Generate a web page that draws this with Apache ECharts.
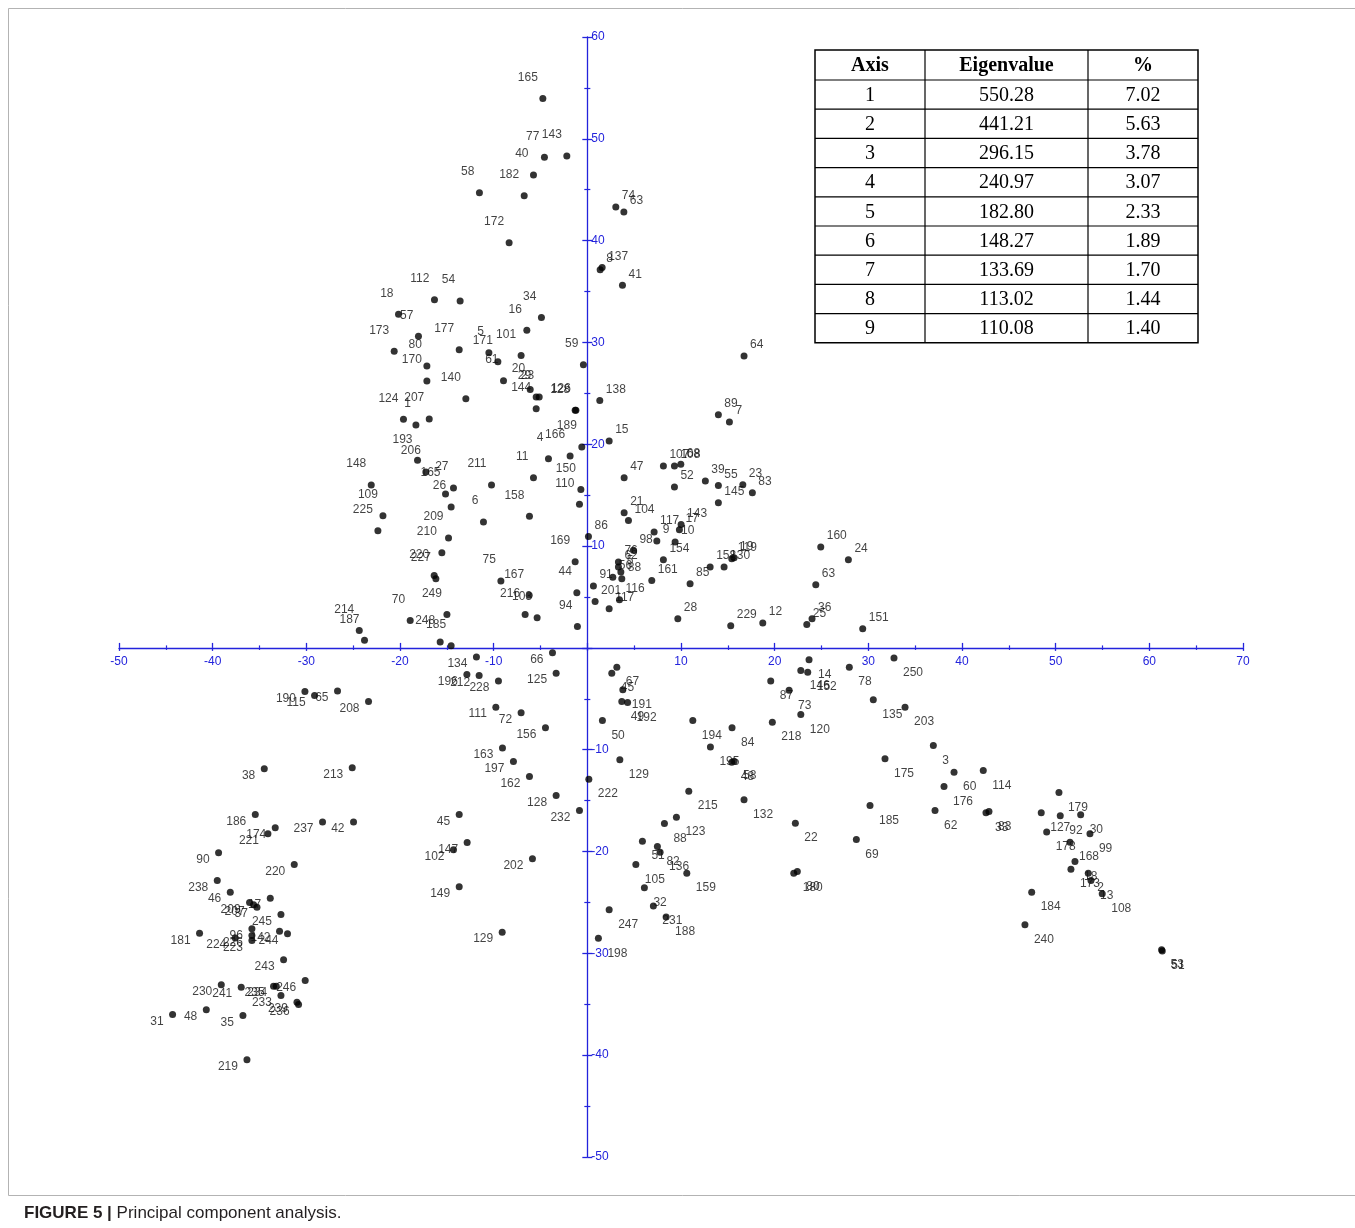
<!DOCTYPE html>
<html>
<head>
<meta charset="utf-8">
<title>PCA</title>
<script src="https://cdn.jsdelivr.net/npm/echarts@6/dist/echarts.min.js"></script>
<style>
  html, body { margin: 0; padding: 0; background: #fff; }
  #pca { width: 1355px; height: 1228px; }
</style>
</head>
<body>
<div id="pca"></div>
<script>
// sample number, axis 1 score, axis 2 score
var sampleIds = [
  '165','77','143','40','182','58','172','112','54','18',
  '57','173','177','80','170','140','34','16','5','171',
  '101','61','20','29','23','144','128','126','59','189',
  '4','166','11','150','110','158','211','6','27','165',
  '26','193','206','148','109','225','209','210','124','1',
  '207','75','167','216','103','220','227','249','70','214',
  '187','248','185','44','94','169','86','74','63','8',
  '137','41','64','138','89','7','15','47','107','108',
  '68','52','39','55','23','83','145','21','104','117',
  '9','143','17','10','154','98','76','62','5','88',
  '56','91','201','117','116','161','85','158','130','119',
  '19','28','229','12','25','36','160','24','63','151',
  '67','45','191','49','192','50','129','222','194','84',
  '195','48','58','132','215','123','88','51','82','136',
  '105','159','32','231','188','247','198','14','146','152',
  '78','250','87','73','120','218','135','203','3','175',
  '185','22','69','180','80','60','176','114','62','33',
  '83','179','127','92','30','178','99','168','18','173',
  '2','13','108','184','240','53','51','66','134','125',
  '196','212','228','111','72','156','163','197','162','128',
  '232','45','147','102','149','202','129','190','115','65',
  '208','38','213','186','174','221','237','42','90','220',
  '238','46','209','207','37','17','245','181','224','223',
  '96','226','142','244','243','230','241','235','234','233',
  '246','239','236','31','48','35','219'
];
var axis1 = [
  -4.75,-4.58,-2.19,-5.75,-6.74,-11.52,-8.35,-16.32,-13.58,-20.16,
  -18.03,-20.62,-13.68,-17.13,-17.13,-12.97,-4.90,-6.46,-10.51,-9.55,
  -7.07,-8.95,-6.10,-5.46,-5.14,-5.46,-1.30,-1.22,-0.42,-0.59,
  -4.15,-1.84,-5.75,-0.69,-0.84,-6.18,-10.23,-11.09,-14.29,-15.14,
  -14.54,-18.13,-17.24,-23.07,-21.82,-22.36,-14.82,-15.53,-19.63,-18.30,
  -16.88,-9.23,-6.21,-6.64,-5.36,-16.35,-16.17,-14.99,-18.91,-24.35,
  -23.79,-15.71,-14.54,-1.12,-1.06,-1.30,0.12,3.04,3.90,1.37,
  1.58,3.75,16.73,1.33,13.99,15.17,2.33,3.93,8.12,9.30,
  9.98,9.30,12.60,13.99,16.60,17.62,13.99,3.93,4.39,7.13,
  7.42,10.01,9.83,9.37,8.12,4.92,3.32,3.32,3.58,3.68,
  2.72,0.65,0.83,2.33,3.43,6.88,10.97,13.11,14.60,15.42,
  15.67,9.66,15.31,18.73,23.43,23.99,24.92,27.87,24.39,29.40,
  3.15,2.61,3.79,3.68,4.30,1.61,3.47,0.16,11.26,15.45,
  13.14,15.42,15.67,16.73,10.83,9.51,8.23,5.88,7.48,7.77,
  5.18,10.62,6.09,7.05,8.41,2.33,1.18,23.67,22.79,23.53,
  27.97,32.74,19.58,21.54,22.79,19.75,30.53,33.92,36.94,31.78,
  30.18,22.21,28.72,22.04,22.42,39.15,38.08,42.27,37.12,42.56,
  42.88,50.35,48.46,50.49,52.67,49.04,53.66,51.53,52.06,51.63,
  53.48,53.77,54.97,47.44,46.72,61.31,61.38,-3.72,-11.84,-3.33,
  -12.86,-11.55,-9.49,-9.77,-7.07,-4.47,-9.06,-7.89,-6.18,-3.33,
  -0.84,-13.68,-12.83,-14.29,-13.68,-5.86,-9.09,-30.15,-29.12,-26.67,
  -23.36,-34.49,-25.10,-35.45,-33.32,-34.10,-28.27,-24.96,-39.37,-31.29,
  -39.51,-38.12,-36.06,-35.63,-35.27,-33.85,-32.71,-41.40,-37.59,-35.81,
  -35.81,-35.81,-32.86,-32.01,-32.43,-39.08,-36.95,-33.50,-33.21,-32.71,
  -30.12,-31.00,-30.83,-44.28,-40.68,-36.77,-36.34
];
var axis2 = [
  53.95,48.18,48.31,46.44,44.42,44.71,39.80,34.20,34.07,32.76,
  30.60,29.13,29.29,27.68,26.21,24.48,32.44,31.19,29.00,28.11,
  28.73,26.25,25.39,24.64,24.64,23.50,23.33,23.35,27.82,19.72,
  18.59,18.84,16.72,15.57,14.10,12.92,15.99,12.36,15.70,15.11,
  13.83,18.42,17.27,15.99,12.99,11.51,10.79,9.35,22.45,21.89,
  22.48,6.56,5.16,3.29,2.97,7.12,6.80,3.29,2.70,1.72,
  0.74,0.57,0.22,5.42,2.11,8.47,10.95,43.30,42.81,37.15,
  37.35,35.61,28.66,24.31,22.91,22.18,20.31,16.72,17.86,17.86,
  18.03,15.80,16.39,15.96,16.03,15.25,14.26,13.28,12.52,11.38,
  10.49,12.13,11.61,10.39,8.66,9.58,8.43,7.94,7.45,6.80,
  6.95,6.07,4.57,3.85,4.73,6.63,6.31,7.94,7.94,8.76,
  8.86,2.87,2.18,2.44,2.31,2.87,9.90,8.66,6.21,1.89,
  -1.89,-2.48,-4.11,-5.26,-5.35,-7.12,-10.98,-12.89,-7.12,-7.84,
  -9.74,-11.22,-11.12,-14.91,-14.07,-16.62,-17.24,-18.98,-19.50,-20.06,
  -21.27,-22.12,-23.56,-25.36,-26.44,-25.72,-28.51,-1.16,-2.21,-2.38,
  -1.89,-1.00,-3.26,-4.17,-6.53,-7.29,-5.09,-5.82,-9.58,-10.88,
  -15.47,-17.21,-18.81,-22.12,-21.95,-12.20,-13.61,-12.03,-15.96,-16.19,
  -16.06,-14.19,-16.19,-16.48,-16.39,-18.09,-18.25,-19.08,-20.97,-21.73,
  -22.12,-22.84,-24.15,-23.99,-27.19,-29.65,-29.76,-0.47,-0.90,-2.48,
  -2.60,-2.70,-3.26,-5.82,-6.37,-7.84,-9.84,-11.15,-12.62,-14.49,
  -15.96,-16.36,-19.11,-19.82,-23.46,-20.71,-27.92,-4.27,-4.67,-4.24,
  -5.26,-11.87,-11.77,-16.36,-17.66,-18.25,-17.11,-17.11,-20.12,-21.27,
  -22.84,-23.99,-25.00,-25.23,-25.46,-24.58,-26.18,-28.02,-28.49,-28.73,
  -27.58,-28.24,-27.82,-28.07,-30.63,-33.08,-33.32,-33.22,-33.22,-34.14,
  -32.66,-34.79,-35.02,-36.00,-35.54,-36.10,-40.45
];

// eigenvalue table
var eigAxis = ['1', '2', '3', '4', '5', '6', '7', '8', '9'];
var eigValue = ['550.28', '441.21', '296.15', '240.97', '182.80', '148.27', '133.69', '113.02', '110.08'];
var eigPct = ['7.02', '5.63', '3.78', '3.07', '2.33', '1.89', '1.70', '1.44', '1.40'];
var eigHead = ['Axis', 'Eigenvalue', '%'];

var BLUE = '#2323dc';
var sans = '"Liberation Sans", Arial, sans-serif';
var serif = '"Liberation Serif", "Times New Roman", serif';

// plot box, axes are pushed to the zero lines with offset
var G = { left: 119, top: 37, width: 1124, height: 1120 };
var xMin = -50, xMax = 70, yMin = -50, yMax = 60;
var zeroX = G.left + (0 - xMin) / (xMax - xMin) * G.width;
var zeroY = G.top + (yMax - 0) / (yMax - yMin) * G.height;

// labels sit outward from the origin, depending on the quadrant
function quadLabel(x, y) {
  if (x >= 0 && y >= 0) return { align: 'left', offset: [6, -11] };
  if (x >= 0) return { align: 'left', offset: [9, 15] };
  if (y >= 0) return { align: 'right', offset: [-5, -21] };
  return { align: 'right', offset: [-9, 7] };
}

var points = sampleIds.map(function (id, i) {
  var q = quadLabel(axis1[i], axis2[i]);
  return {
    value: [axis1[i], axis2[i], id],
    label: { align: q.align, offset: q.offset }
  };
});

// table drawn with graphic elements
var tb = { x: 815, y: 50, cols: [815, 925, 1088, 1198], headH: 30, rowH: 29.2 };
var tableEls = [];
var tblH = tb.headH + tb.rowH * eigAxis.length;
tableEls.push({ type: 'rect', shape: { x: tb.x, y: tb.y, width: tb.cols[3] - tb.cols[0], height: tblH },
  style: { fill: '#fff', stroke: '#000', lineWidth: 1.5 } });
for (var c = 1; c < 3; c++) {
  tableEls.push({ type: 'line', shape: { x1: tb.cols[c], y1: tb.y, x2: tb.cols[c], y2: tb.y + tblH },
    style: { stroke: '#000', lineWidth: 1.2 } });
}
for (var r = 0; r < eigAxis.length; r++) {
  var ly = tb.y + tb.headH + r * tb.rowH;
  tableEls.push({ type: 'line', shape: { x1: tb.cols[0], y1: ly, x2: tb.cols[3], y2: ly },
    style: { stroke: '#000', lineWidth: 1.2 } });
}
function cellText(txt, col, cy, bold) {
  var cx = (tb.cols[col] + tb.cols[col + 1]) / 2;
  return { type: 'text', x: cx, y: cy,
    style: { text: txt, fill: '#000', font: (bold ? 'bold ' : '') + '20px ' + serif,
      align: 'center', verticalAlign: 'middle', textAlign: 'center', textVerticalAlign: 'middle' } };
}
eigHead.forEach(function (h, c) { tableEls.push(cellText(h, c, tb.y + tb.headH / 2 + 1, true)); });
eigAxis.forEach(function (a, r) {
  var cy = tb.y + tb.headH + r * tb.rowH + tb.rowH / 2 + 1;
  tableEls.push(cellText(a, 0, cy, false));
  tableEls.push(cellText(eigValue[r], 1, cy, false));
  tableEls.push(cellText(eigPct[r], 2, cy, false));
});

var myChart = echarts.init(document.getElementById('pca'));
var hideZero = function (v) { return v === 0 ? '' : v; };

myChart.setOption({
  backgroundColor: '#fff',
  animation: false,
  grid: { left: G.left, top: G.top, width: G.width, height: G.height, containLabel: false, outerBoundsMode: 'none' },
  xAxis: [{
    type: 'value', min: xMin, max: xMax, interval: 10, position: 'bottom',
    offset: zeroY - (G.top + G.height),
    splitLine: { show: false },
    axisLine: { onZero: false, lineStyle: { color: BLUE, width: 1.3 } },
    axisTick: { length: 3, lineStyle: { color: BLUE, width: 1.3 } },
    minorTick: { show: true, splitNumber: 2, length: 2, lineStyle: { color: BLUE, width: 1.2 } },
    axisLabel: { color: BLUE, fontSize: 12, fontFamily: sans, margin: 8, formatter: hideZero }
  }, {
    // second copy only to draw the upper half of the ticks
    type: 'value', min: xMin, max: xMax, interval: 10, position: 'top',
    offset: G.top - zeroY,
    splitLine: { show: false },
    axisLine: { show: false, onZero: false },
    axisTick: { length: 5, lineStyle: { color: BLUE, width: 1.3 } },
    minorTick: { show: true, splitNumber: 2, length: 2.5, lineStyle: { color: BLUE, width: 1.2 } },
    axisLabel: { show: false }
  }],
  yAxis: [{
    type: 'value', min: yMin, max: yMax, interval: 10, position: 'right',
    offset: zeroX - (G.left + G.width),
    splitLine: { show: false },
    axisLine: { onZero: false, lineStyle: { color: BLUE, width: 1.3 } },
    axisTick: { length: 5, lineStyle: { color: BLUE, width: 1.3 } },
    minorTick: { show: true, splitNumber: 2, length: 3, lineStyle: { color: BLUE, width: 1.2 } },
    axisLabel: { color: BLUE, fontSize: 12, fontFamily: sans, margin: 4, formatter: hideZero }
  }, {
    type: 'value', min: yMin, max: yMax, interval: 10, position: 'left',
    offset: G.left - zeroX,
    splitLine: { show: false },
    axisLine: { show: false, onZero: false },
    axisTick: { length: 5, lineStyle: { color: BLUE, width: 1.3 } },
    minorTick: { show: true, splitNumber: 2, length: 3, lineStyle: { color: BLUE, width: 1.2 } },
    axisLabel: { show: false }
  }],
  series: [{
    type: 'scatter',
    xAxisIndex: 0, yAxisIndex: 0,
    symbol: 'circle', symbolSize: 7,
    itemStyle: { color: '#000' },
    label: {
      show: true, position: 'inside', verticalAlign: 'middle',
      color: '#111', fontSize: 12, fontFamily: sans,
      formatter: function (p) { return p.value[2]; }
    },
    data: points
  }],
  graphic: [
    { type: 'rect', z: 0, silent: true, shape: { x: 8.5, y: 8.5, width: 1360, height: 1187 },
      style: { fill: 'none', stroke: '#b3b3b3', lineWidth: 1 } },
    { type: 'group', z: 100, children: tableEls },
    { type: 'text', x: 24, y: 1213,
      style: { text: '{b|FIGURE 5 |} Principal component analysis.', fill: '#231f20',
        font: '17px ' + sans, verticalAlign: 'middle', textVerticalAlign: 'middle',
        rich: { b: { fontWeight: 'bold', fontSize: 17, fontFamily: sans, fill: '#231f20' } } } }
  ]
});
</script>
</body>
</html>
